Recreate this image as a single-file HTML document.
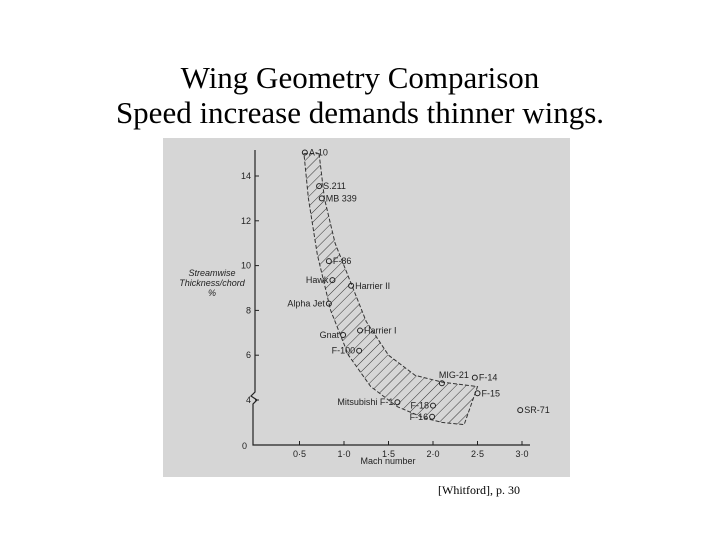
<!DOCTYPE html>
<html><head><meta charset="utf-8"><style>
body{margin:0;width:720px;height:540px;background:#fff;overflow:hidden;font-family:"Liberation Serif",serif;}
#title{position:absolute;top:60px;left:0;width:720px;text-align:center;font-size:31px;line-height:35px;color:#000;}
#cap{position:absolute;left:438px;top:483px;font-size:12px;color:#000;}
svg{position:absolute;left:0;top:0;}
</style></head><body>
<div id="title">Wing Geometry Comparison<br>Speed increase demands thinner wings.</div>
<svg width="720" height="540">
<defs><pattern id="hatch" width="7" height="7" patternUnits="userSpaceOnUse" patternTransform="rotate(45)"><line x1="0" y1="0" x2="0" y2="7" stroke="#333" stroke-width="1"/></pattern></defs>
<rect x="163" y="138" width="407" height="339" fill="#d6d6d6"/>
<g id="g"></g>
</svg>
<div id="cap">[Whitford], p. 30</div>
<script>
const names=["A-10","S.211","MB 339","F-86","Hawk","Harrier II","Alpha Jet","Harrier I","Gnat","F-100","MIG-21","F-14","F-15","Mitsubishi F-1","F-18","F-16","SR-71"];
const mach=[0.56,0.72,0.75,0.83,0.87,1.08,0.83,1.18,0.99,1.17,2.1,2.47,2.5,1.6,2.0,1.99,2.98];
const thick=[15.05,13.55,13.0,10.2,9.35,9.1,8.3,7.1,6.9,6.2,4.75,5.0,4.3,3.9,3.75,3.25,3.55];
const bandUpperX=[0.72,0.78,0.9,1.05,1.25,1.5,1.8,2.1,2.5];
const bandUpperY=[15,13,11,9.5,7.5,6,5.1,4.8,4.6];
const bandLowerX=[2.35,2.1,1.9,1.6,1.3,1.05,0.85,0.7,0.6,0.55];
const bandLowerY=[2.9,3.0,3.2,3.7,4.6,6.0,8.0,10.5,13,15];
const xTicks=[0.5,1.0,1.5,2.0,2.5,3.0];
const xTickLabels=["0·5","1·0","1·5","2·0","2·5","3·0"];
const yTicks=[4,6,8,10,12,14];
const labelSide=["r","r","r","r","l","r","l","r","l","l","t","r","r","l","l","l","r"];
const X=v=>255+v*89, Y=v=>v<=0?445:400-(v-4)*22.4;
const g=document.getElementById('g');const NS="http://www.w3.org/2000/svg";
function mk(t,a,p){const e=document.createElementNS(NS,t);for(const k in a)e.setAttribute(k,a[k]);(p||g).appendChild(e);return e;}
let pts=bandUpperX.map((v,i)=>X(v)+","+Y(bandUpperY[i])).concat(bandLowerX.map((v,i)=>X(v)+","+Y(bandLowerY[i]))).join(" ");
let band=mk('polygon',{points:pts,fill:"url(#hatch)",stroke:"#333","stroke-width":1,"stroke-dasharray":"4 2"});


let ax=mk('path',{d:`M${X(0)} 150 V392 l-4 4 l6 4 l-4 4 V${Y(0)} H530`,stroke:"#222",fill:"none","stroke-width":1.2});


const ts="font-family:'Liberation Sans',sans-serif;font-size:9px;fill:#222";
xTicks.forEach((v,i)=>{mk('line',{x1:X(v),x2:X(v),y1:Y(0),y2:Y(0)-4,stroke:"#222"});
const t=mk('text',{x:X(v),y:Y(0)+12,"text-anchor":"middle",style:ts});t.textContent=xTickLabels[i];

});
const z=mk('text',{x:X(0)-8,y:Y(0)+4,"text-anchor":"end",style:ts});z.textContent="0";
yTicks.forEach(v=>{mk('line',{x1:X(0),x2:X(0)+4,y1:Y(v),y2:Y(v),stroke:"#222"});
const t=mk('text',{x:X(0)-4,y:Y(v)+3,"text-anchor":"end",style:ts});t.textContent=v;

});
const xt=mk('text',{x:388,y:464,"text-anchor":"middle",style:ts});xt.textContent="Mach number";


["Streamwise","Thickness/chord","%"].forEach((s,i)=>{const t=mk('text',{x:212,y:276+i*10,"text-anchor":"middle",style:ts+";font-style:italic"});t.textContent=s;

});
mach.forEach((m,i)=>{const cx=X(m),cy=Y(thick[i]);
const c=mk('circle',{cx,cy,r:2.5,fill:"none",stroke:"#222"});


const s=labelSide[i];const a=s=="l"?{x:cx-4,y:cy+3,"text-anchor":"end"}:s=="t"?{x:cx-3,y:cy-5,"text-anchor":"start"}:{x:cx+4,y:cy+3,"text-anchor":"start"};
a.style=ts;const t=mk('text',a);t.textContent=names[i];

});
</script>
</body></html>
